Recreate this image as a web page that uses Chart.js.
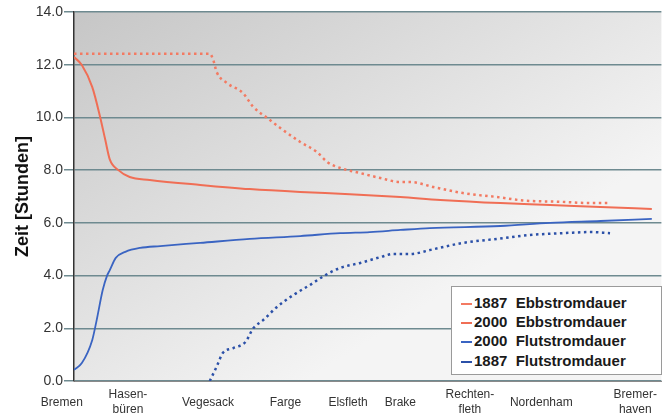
<!DOCTYPE html>
<html>
<head>
<meta charset="utf-8">
<script src="https://cdn.jsdelivr.net/npm/chart.js@4"></script>
<style>
  body { margin: 0; background: #fff; }
  #wrap { position: relative; width: 663px; height: 419px; }
  #legend {
    position: absolute; left: 451px; top: 286px; width: 209px; height: 87px;
    background: #fff; border: 1px solid #9a9a9a;
    font: bold 15px "Liberation Sans", Arial, sans-serif; color: #1a1a1a;
  }
  #legend div { position: absolute; left: 9px; height: 19px; line-height: 19px; white-space: pre; }
  #legend span.m { display: inline-block; width: 11px; margin-right: 2px; vertical-align: middle; }
</style>
</head>
<body>
<div id="wrap">
  <canvas id="chart" width="663" height="419"></canvas>
  <div id="legend"></div>
</div>
<script>
// station labels on the river (position in km-like units, 0 = chart left edge)
const stationNames = ['Bremen', ['Hasen-', 'büren'], 'Vegesack', 'Farge', 'Elsfleth', 'Brake', ['Rechten-', 'fleth'], 'Nordenham', ['Bremer-', 'haven']];
const stationPos = [-1.4, 6.2, 15.4, 24.3, 31.5, 37.5, 45.5, 53.7, 64.5];

// 1887 Ebbstromdauer
const ebb1887X = [0, 15.6, 16.0, 16.4, 17.6, 19.4, 20.6, 22.2, 23.7, 26.0, 27.9, 29.1, 30.6, 32.9, 35.2, 37.5, 38.6, 41.3, 44.7, 48.6, 51.6, 55.9, 59.3, 61.3];
const ebb1887Y = [12.42, 12.42, 12.18, 11.72, 11.3, 10.93, 10.4, 9.98, 9.6, 9.07, 8.69, 8.31, 8.08, 7.89, 7.7, 7.55, 7.55, 7.36, 7.13, 6.98, 6.85, 6.8, 6.75, 6.75];

// 2000 Ebbstromdauer
const ebb2000X = [0, 0.9, 2.1, 3.0, 3.6, 4.1, 5.1, 6.4, 8.7, 14.5, 20.2, 26.0, 31.7, 37.5, 42.1, 49.0, 54.7, 60.5, 66.4];
const ebb2000Y = [12.29, 11.99, 11.15, 10.02, 9.14, 8.42, 8.0, 7.74, 7.63, 7.44, 7.28, 7.17, 7.09, 6.98, 6.87, 6.75, 6.68, 6.6, 6.53];

// 2000 Flutstromdauer
const flut2000X = [0, 0.9, 2.1, 2.6, 3.3, 3.8, 4.1, 4.8, 5.9, 7.6, 9.9, 14.5, 20.2, 26.0, 30.6, 34.0, 37.5, 40.9, 49.0, 54.7, 60.5, 66.4];
const flut2000Y = [0.42, 0.68, 1.56, 2.3, 3.45, 4.0, 4.2, 4.67, 4.9, 5.05, 5.12, 5.24, 5.39, 5.5, 5.61, 5.65, 5.73, 5.8, 5.88, 6.0, 6.07, 6.15];

// 1887 Flutstromdauer
const flut1887X = [15.6, 16.4, 17.1, 18.3, 19.7, 20.6, 21.7, 23.3, 25.2, 27.1, 28.9, 30.6, 32.9, 35.2, 36.7, 38.6, 41.3, 44.7, 48.6, 52.4, 56.2, 59.3, 61.6];
const flut1887Y = [0, 0.55, 1.06, 1.25, 1.48, 2.0, 2.3, 2.8, 3.26, 3.64, 4.02, 4.29, 4.48, 4.7, 4.82, 4.82, 5.0, 5.24, 5.39, 5.54, 5.61, 5.65, 5.61];

const yTicks = [0, 2, 4, 6, 8, 10, 12, 14];

const pts = (xs, ys) => xs.map((x, i) => ({ x: x, y: ys[i] }));

const series = [
  { label: '1887  Ebbstromdauer', x: ebb1887X, y: ebb1887Y, color: '#f37a62', dash: [2.5, 3.5], width: 2.5 },
  { label: '2000  Ebbstromdauer', x: ebb2000X, y: ebb2000Y, color: '#f06e55', dash: [], width: 2 },
  { label: '2000  Flutstromdauer', x: flut2000X, y: flut2000Y, color: '#3a64c2', dash: [], width: 1.8 },
  { label: '1887  Flutstromdauer', x: flut1887X, y: flut1887Y, color: '#2b50a8', dash: [2.5, 3.5], width: 2.5 }
];

const bgPlugin = {
  id: 'bg',
  beforeDraw(chart) {
    const { ctx, chartArea: a } = chart;
    const h = a.bottom - a.top, w = a.right - a.left;
    const g = ctx.createLinearGradient(a.left, a.top, a.left + h * h / w, a.bottom);
    g.addColorStop(0, '#c6c6c6');
    g.addColorStop(1, '#f4f4f4');
    ctx.save();
    ctx.fillStyle = g;
    ctx.fillRect(a.left, a.top, w, h);
    ctx.restore();
  }
};

new Chart(document.getElementById('chart'), {
  type: 'line',
  data: {
    datasets: series.map(s => ({
      label: s.label,
      data: pts(s.x, s.y),
      borderColor: s.color,
      borderWidth: s.width,
      borderDash: s.dash,
      pointRadius: 0,
      fill: false,
      tension: 0.3,
      cubicInterpolationMode: 'monotone'
    }))
  },
  options: {
    responsive: false,
    animation: false,
    layout: { padding: { top: 12, right: 1, left: 0, bottom: 0 } },
    plugins: { legend: { display: false }, tooltip: { enabled: false } },
    scales: {
      x: {
        type: 'linear',
        min: 0,
        max: 67.5,
        afterFit: s => { s.height = 38; },
        afterBuildTicks: s => { s.ticks = stationPos.map(v => ({ value: v })); },
        grid: { display: false },
        border: { display: true, color: '#8a8a8a', width: 1 },
        ticks: {
          autoSkip: false,
          maxRotation: 0,
          padding: 6,
          crossAlign: 'center',
          color: '#333',
          font: { family: '"Liberation Sans", Arial, sans-serif', size: 12 },
          callback: (v, i) => stationNames[i]
        }
      },
      y: {
        min: 0,
        max: 14,
        afterFit: s => { s.width = 74; },
        afterBuildTicks: s => { s.ticks = yTicks.map(v => ({ value: v })); },
        grid: { color: '#6e8a90', lineWidth: 1.5, tickLength: 10 },
        border: { display: true, color: '#333', width: 1.5 },
        ticks: {
          padding: 1,
          color: '#333',
          font: { family: '"Liberation Sans", Arial, sans-serif', size: 14 },
          callback: v => v.toFixed(1)
        },
        title: {
          display: true,
          text: 'Zeit [Stunden]',
          color: '#111',
          padding: { top: 12, bottom: 0 },
          font: { family: '"Liberation Sans", Arial, sans-serif', size: 18, weight: 'bold' }
        }
      }
    }
  },
  plugins: [bgPlugin]
});

// legend box inside the plot, bottom right
const legend = document.getElementById('legend');
series.forEach((s, i) => {
  const row = document.createElement('div');
  row.style.top = (6 + i * 19.2) + 'px';
  const m = document.createElement('span');
  m.className = 'm';
  m.style.borderTop = '2.5px ' + (s.dash.length ? 'dashed ' : 'solid ') + s.color;
  row.appendChild(m);
  row.appendChild(document.createTextNode(s.label));
  legend.appendChild(row);
});
</script>
</body>
</html>
